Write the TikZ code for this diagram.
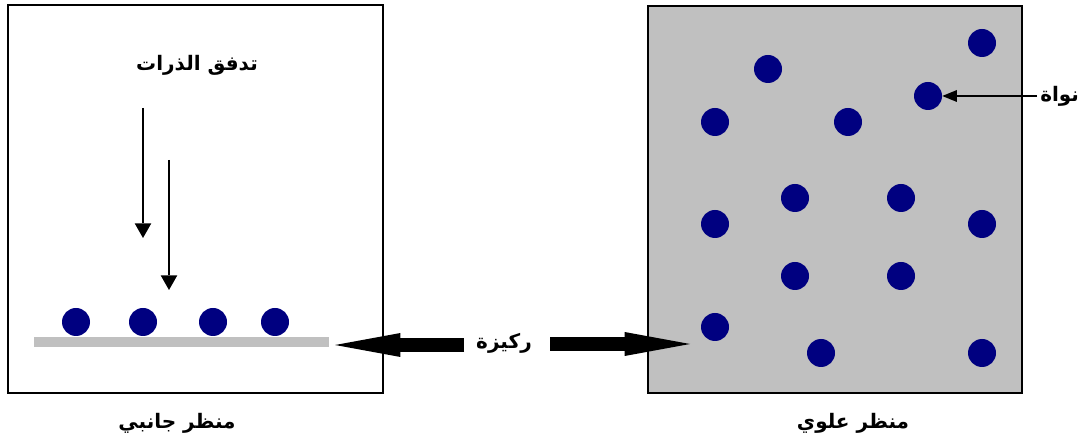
\documentclass[tikz,border=0pt]{standalone}
\usepackage{fontspec}
\usetikzlibrary{arrows.meta}
\TeXXeTstate=1
\newfontfamily\arabicfont[Script=Arabic]{DejaVu Sans}
\definecolor{dotblue}{RGB}{0,0,128}
\definecolor{panelgray}{RGB}{192,192,192}
\newcommand{\ar}[1]{\arabicfont\bfseries\beginR #1\endR}
\tikzset{
  frame/.style={draw=black, line width=2.2pt},
  dot/.style={circle, fill=dotblue, minimum size=21pt, inner sep=0pt},
  lbl/.style={font=\fontsize{15}{18}\selectfont, inner sep=0pt},
  flux/.style={line width=1.5pt, -{Triangle[length=11pt, width=12.5pt, line width=0pt]}},
  pointer/.style={line width=1.5pt, -{Triangle[length=11pt, width=9pt, line width=0pt]}},
  bigarrow/.style={line width=10pt, -{Triangle[length=49pt, width=18pt, line width=0pt]}},
}
\begin{document}
\begin{tikzpicture}[x={(0.75pt,0)}, y={(0,-0.75pt)}]
\useasboundingbox (0,0) rectangle (1089,448);

% side view panel
\draw[frame] (8,5) rectangle (383,393);
\node[lbl] (fluxlbl) at (197,65) {\ar{تدفق الذرات}};
\coordinate (f1s) at (143,108);
\coordinate (f1e) at (143,238);
\coordinate (f2s) at (169,160);
\coordinate (f2e) at (169,290);
\draw[flux] (f1s) -- (f1e);
\draw[flux] (f2s) -- (f2e);
\node[fill=panelgray, minimum width=221pt, minimum height=7.5pt, inner sep=0pt] (bar) at (181.5,342) {};
\node[dot] (s1) at (76,322) {};
\node[dot] (s2) at (143,322) {};
\node[dot] (s3) at (213,322) {};
\node[dot] (s4) at (275,322) {};
\node[lbl] (sidelbl) at (177,423) {\ar{منظر جانبي}};

% top view panel
\draw[frame, fill=panelgray] (648,6) rectangle (1022,393);
\node[dot] (t1) at (982,43) {};
\node[dot] (t2) at (768,69) {};
\node[dot] (t3) at (928,96) {};
\node[dot] (t4) at (715,122) {};
\node[dot] (t5) at (848,122) {};
\node[dot] (t6) at (795,198) {};
\node[dot] (t7) at (901,198) {};
\node[dot] (t8) at (715,224) {};
\node[dot] (t9) at (982,224) {};
\node[dot] (t10) at (795,276) {};
\node[dot] (t11) at (901,276) {};
\node[dot] (t12) at (715,327) {};
\node[dot] (t13) at (821,353) {};
\node[dot] (t14) at (982,353) {};
\node[lbl] (toplbl) at (853,423) {\ar{منظر علوي}};

% nucleus label
\node[lbl, anchor=west] (nuc) at (1040,96) {\ar{نواة}};
\draw[pointer] (nuc.west) ++(-3,0) -- (t3.east);

% substrate label with double arrows
\node[lbl] (sub) at (504,343) {\ar{ركيزة}};
\coordinate (subL) at (464,345);
\coordinate (subR) at (550,344);
\coordinate (tipR) at (690,344);
\draw[bigarrow] (subL) -- ([xshift=4.5pt, yshift=-2.25pt]bar.east);
\draw[bigarrow] (subR) -- (tipR);
\end{tikzpicture}
\end{document}
